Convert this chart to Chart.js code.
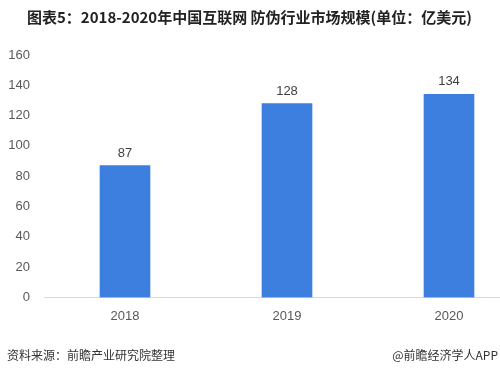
<!DOCTYPE html>
<html>
<head>
<meta charset="utf-8">
<script src="https://cdn.jsdelivr.net/npm/chart.js@4.4.1/dist/chart.umd.min.js"></script>
<style>
  html, body { margin: 0; padding: 0; background: #fff; width: 500px; height: 372px; overflow: hidden; }
  #wrap { position: relative; width: 500px; height: 372px; overflow: hidden; }
  #title { position: absolute; left: 27px; top: 6px; font: bold 15px "Noto Sans CJK SC", sans-serif; color: #222; white-space: nowrap; }
  #source { position: absolute; left: 7px; top: 346px; font: 12px "Noto Sans CJK SC", sans-serif; color: #333; white-space: nowrap; }
  #brand { position: absolute; right: 2px; top: 346px; font: 12px "Noto Sans CJK SC", sans-serif; color: #333; white-space: nowrap; }
  #box { position: absolute; left: 0; top: 0; width: 540px; height: 372px; }
</style>
</head>
<body>
<div id="wrap">
  <div id="box"><canvas id="chart"></canvas></div>
  <div id="title">图表5：2018-2020年中国互联网 防伪行业市场规模(单位：亿美元)</div>
  <div id="source">资料来源：前瞻产业研究院整理</div>
  <div id="brand">@前瞻经济学人APP</div>
</div>
<script>
// market size, 100 million USD
const years = ['2018', '2019', '2020']
const marketSize = [87, 128, 134]
const yTicks = [0, 20, 40, 60, 80, 100, 120, 140, 160]

const tickFont = { family: '"Liberation Sans", "Noto Sans CJK SC", sans-serif', size: 13 }

// value labels above each bar
const barLabels = {
    id: 'barLabels',
    afterDatasetsDraw(chart) {
        const ctx = chart.ctx
        const meta = chart.getDatasetMeta(0)
        ctx.save()
        ctx.font = '13px "Liberation Sans", sans-serif'
        ctx.fillStyle = '#404040'
        ctx.textAlign = 'center'
        ctx.textBaseline = 'bottom'
        meta.data.forEach((bar, i) => {
            ctx.fillText(String(marketSize[i]), bar.x, bar.y - 6)
        })
        ctx.restore()
    }
}

new Chart(document.getElementById('chart'), {
    type: 'bar',
    data: {
        labels: years,
        datasets: [{
            data: marketSize,
            backgroundColor: '#3d7fde',
            borderWidth: 0,
            barThickness: 50
        }]
    },
    options: {
        responsive: true,
        maintainAspectRatio: false,
        animation: false,
        events: [],
        layout: { padding: { top: 55, right: 10, bottom: 45, left: 0 } },
        plugins: { legend: { display: false }, tooltip: { enabled: false } },
        scales: {
            x: {
                grid: { display: false },
                border: { display: true, color: '#d9d9d9', width: 1 },
                ticks: { color: '#595959', font: tickFont, padding: 3 }
            },
            y: {
                min: 0,
                max: 160,
                grid: { display: false },
                border: { display: false },
                afterBuildTicks: (s) => { s.ticks = yTicks.map(v => ({ value: v })) },
                ticks: { color: '#595959', font: tickFont, padding: 6 },
                afterFit: (s) => { s.width = 44 }
            }
        }
    },
    plugins: [barLabels]
})
</script>
</body>
</html>
